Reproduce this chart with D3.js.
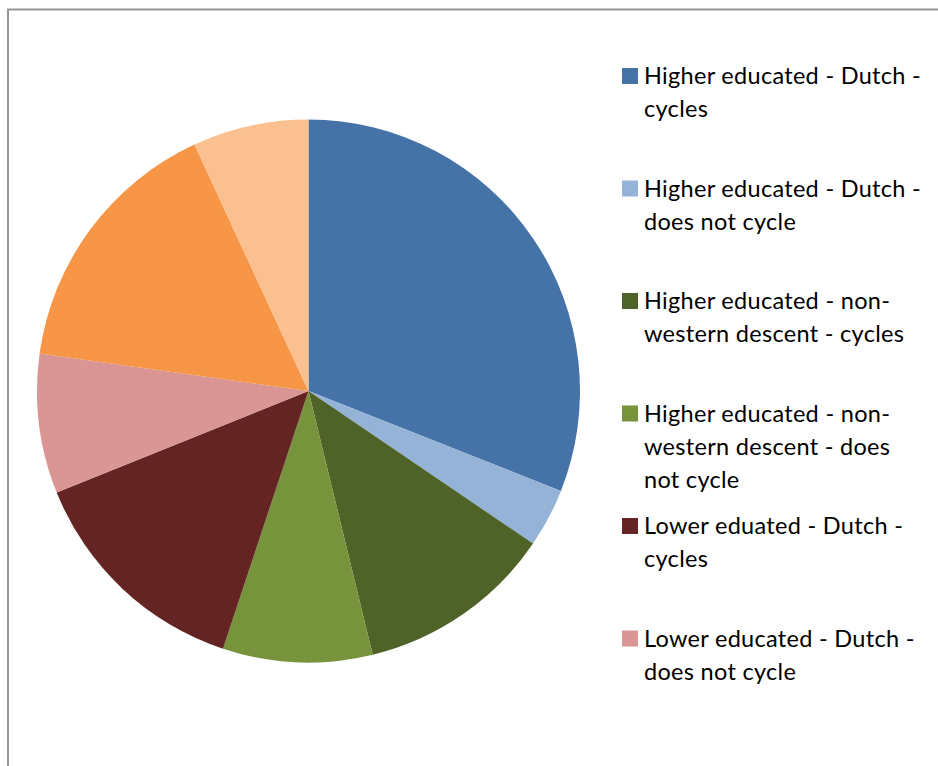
<!DOCTYPE html>
<html>
<head>
<meta charset="utf-8">
<script src="https://cdn.jsdelivr.net/npm/d3@7"></script>
<style>
  body { margin: 0; background: #fff; }
  text { font-family: Lato, "Noto Sans", sans-serif; fill: #000; }
</style>
</head>
<body>
<div id="chart"></div>
<script>
// categories and shares (in %)
var categories = [
  "Higher educated - Dutch - cycles",
  "Higher educated - Dutch - does not cycle",
  "Higher educated - non-western descent - cycles",
  "Higher educated - non-western descent - does not cycle",
  "Lower eduated - Dutch - cycles",
  "Lower educated - Dutch - does not cycle",
  "Lower educated - non-western descent - cycles",
  "Lower educated - non-western descent - does not cycle"
]
var values = [31.0, 3.5, 11.7, 8.9, 13.8, 8.3, 15.9, 6.9]
var colors = ["#4572A7", "#95B3D7", "#4F6228", "#77933C", "#632423", "#D99694", "#F79646", "#FAC090"]

// legend lines as they wrap in the picture (only the first six fit)
var legendLines = [
  ["Higher educated - Dutch -", "cycles"],
  ["Higher educated - Dutch -", "does not cycle"],
  ["Higher educated - non-", "western descent - cycles"],
  ["Higher educated - non-", "western descent - does", "not cycle"],
  ["Lower eduated - Dutch -", "cycles"],
  ["Lower educated - Dutch -", "does not cycle"]
]

var width = 938, height = 766

var svg = d3.select("#chart")
  .append("svg")
  .attr("width", width)
  .attr("height", height)

// chart frame
svg.append("rect")
  .attr("x", 8)
  .attr("y", 9.5)
  .attr("width", 940)
  .attr("height", 800)
  .attr("fill", "none")
  .attr("stroke", "#959595")
  .attr("stroke-width", 2)

var cx = 308.5, cy = 391, radius = 271.5

var colorScale = d3.scaleOrdinal().domain(categories).range(colors)

var pie = d3.pie().sort(null).value(function(d) { return d.value })
var arc = d3.arc().innerRadius(0).outerRadius(radius)

var data = categories.map(function(c, i) { return { name: c, value: values[i] } })

var g = svg.append("g")
  .attr("transform", "translate(" + cx + "," + cy + ")")

g.selectAll("path")
  .data(pie(data))
  .enter().append("path")
  .attr("d", arc)
  .attr("fill", function(d) { return colorScale(d.data.name) })

// legend
var legend = svg.append("g")
  .attr("transform", "translate(622,68)")

var items = legend.selectAll("g")
  .data(legendLines)
  .enter().append("g")
  .attr("transform", function(d, i) { return "translate(0," + (i * 112.5) + ")" })

items.append("rect")
  .attr("width", 16)
  .attr("height", 16)
  .attr("fill", function(d, i) { return colors[i] })

items.append("text")
  .attr("x", 22)
  .attr("y", 16)
  .attr("font-size", 23.5)
  .attr("letter-spacing", 0.3)
  .selectAll("tspan")
  .data(function(d) { return d })
  .enter().append("tspan")
  .attr("x", 22)
  .attr("dy", function(d, i) { return i === 0 ? 0 : 33 })
  .text(function(d) { return d })
</script>
</body>
</html>
